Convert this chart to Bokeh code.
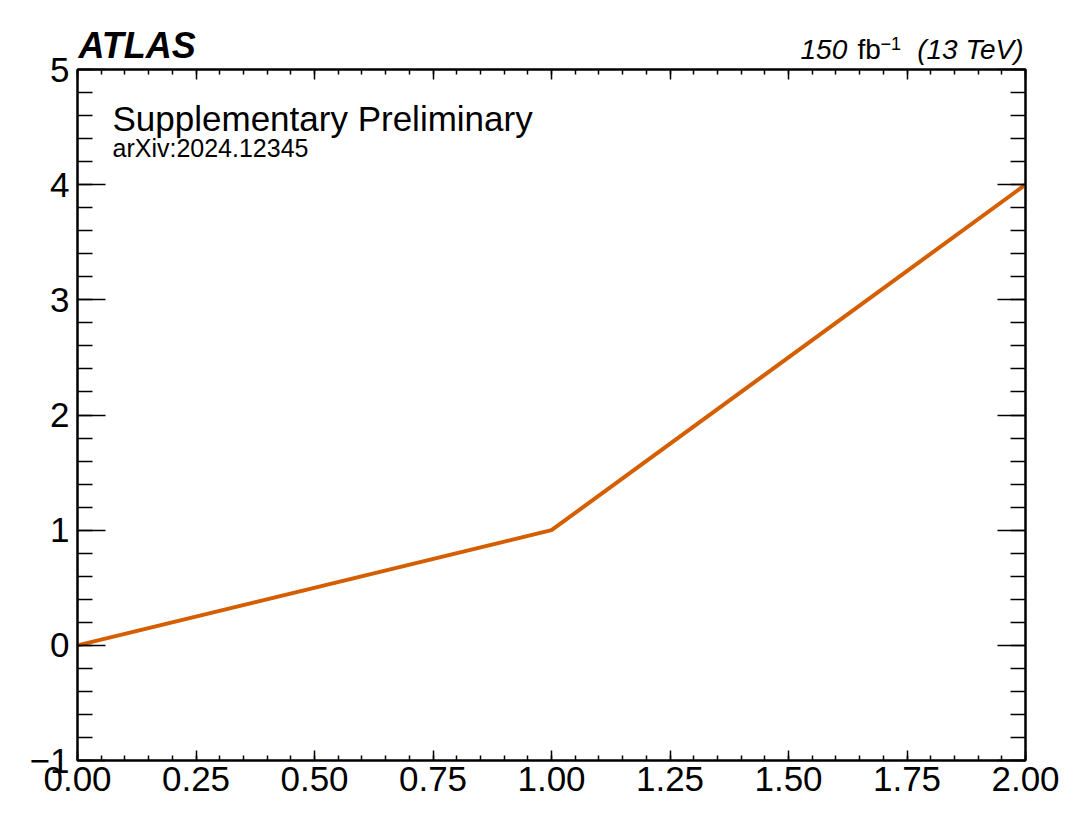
from bokeh.plotting import figure
from bokeh.layouts import column
from bokeh.models import (LinearAxis, FixedTicker, Label, Range1d, PrintfTickFormatter,
                          CustomJSTickFormatter)
from bokeh.embed import file_html
from bokeh.resources import INLINE

# data
x_vals = [0.0, 1.0, 2.0]
y_vals = [0.0, 1.0, 4.0]
x_major = [0.0, 0.25, 0.5, 0.75, 1.0, 1.25, 1.5, 1.75, 2.0]
x_minor = [round(i * 0.05, 2) for i in range(41)]
y_major = [-1, 0, 1, 2, 3, 4, 5]
y_minor = [round(-1 + i * 0.2, 2) for i in range(31)]

FONT = "Liberation Sans"
W = 1089
HEAD_H = 66
OVERLAP = 30

# header strip holding texts above the frame
h = figure(width=W, height=HEAD_H, output_backend="svg", toolbar_location=None,
           x_range=Range1d(0, W), y_range=Range1d(0, HEAD_H),
           x_axis_type=None, y_axis_type=None, frame_align=False,
           min_border_left=0, min_border_right=0, min_border_top=0, min_border_bottom=0)
h.xgrid.visible = False
h.ygrid.visible = False
h.outline_line_color = None
h.styles = {"margin-bottom": f"-{OVERLAP}px"}

def hlab(text, x, y, size, style="normal", align="left"):
    h.add_layout(Label(x=x, y=y, text=text, text_font=FONT, text_font_size=size,
                       text_font_style=style, text_align=align,
                       text_baseline="middle", text_color="black"))

hlab("ATLAS", 78, 21.5, "36px", "bold italic")
hlab("150", 800, 16.7, "28px", "italic")
hlab("fb", 857, 16.7, "28px")
hlab("\u22121", 880, 23, "18px")
hlab("(13 TeV)", 1023, 16.7, "28px", "italic", "right")

p = figure(width=W, height=833 - HEAD_H + OVERLAP, output_backend="svg", toolbar_location=None,
           x_range=Range1d(0, 2), y_range=Range1d(-1, 5), frame_align=False,
           min_border_left=77, min_border_right=64, min_border_top=69 - HEAD_H + OVERLAP,
           min_border_bottom=73)
p.xgrid.visible = False
p.ygrid.visible = False
p.outline_line_color = "black"
p.outline_line_width = 2
p.border_fill_alpha = 0
p.background_fill_color = "white"

p.line(x_vals, y_vals, line_color="#d55e00", line_width=4)

def style_axis(ax, ticks, minor, major_len, minor_len, labels=True):
    ax.ticker = FixedTicker(ticks=ticks, minor_ticks=minor)
    ax.major_tick_in = major_len
    ax.major_tick_out = 0
    ax.minor_tick_in = minor_len
    ax.minor_tick_out = 0
    ax.major_tick_line_color = "black"
    ax.minor_tick_line_color = "black"
    ax.major_tick_line_width = 1.5
    ax.minor_tick_line_width = 1.5
    ax.axis_line_color = "black"
    ax.axis_line_width = 2
    if labels:
        ax.major_label_text_font = FONT
        ax.major_label_text_font_size = "35px"
        ax.major_label_text_color = "black"
    else:
        ax.formatter = CustomJSTickFormatter(code="return ''")
        ax.major_label_text_font_size = "1px"
        ax.major_label_standoff = 0

xa = p.xaxis[0]
style_axis(xa, x_major, x_minor, 10, 5)
xa.formatter = PrintfTickFormatter(format="%.2f")
xa.major_label_standoff = 6

ya = p.yaxis[0]
style_axis(ya, y_major, y_minor, 28, 15)
ya.major_label_overrides = {-1: "\u22121"}
ya.major_label_standoff = 8

top = LinearAxis()
style_axis(top, x_major, x_minor, 10, 5, labels=False)
p.add_layout(top, "above")
right = LinearAxis()
style_axis(right, y_major, y_minor, 28, 15, labels=False)
p.add_layout(right, "right")

def lab(text, xo, yo, size, style="normal"):
    p.add_layout(Label(x=0, y=5, x_offset=xo, y_offset=yo, text=text,
                       text_font=FONT, text_font_size=size, text_font_style=style,
                       text_align="left", text_baseline="middle", text_color="black"))

lab("Supplementary Preliminary", 35, -49, "35px")
lab("arXiv:2024.12345", 35, -78, "25px")

open("out.html", "w").write(file_html(column(h, p, spacing=0), INLINE))
